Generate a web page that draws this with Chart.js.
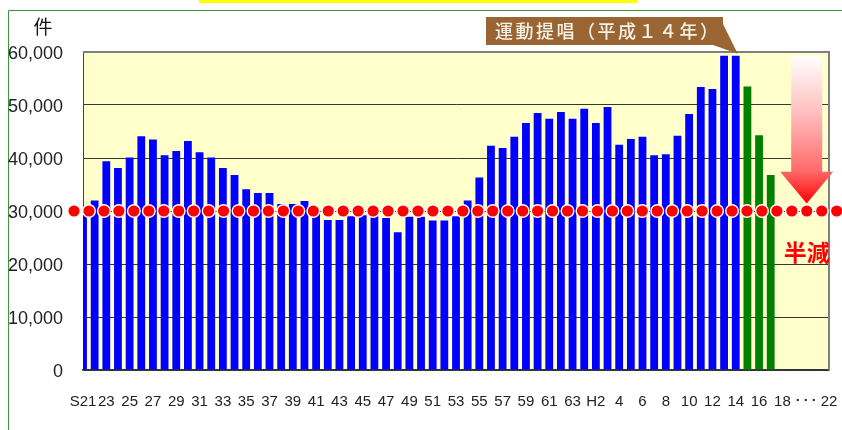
<!DOCTYPE html>
<html>
<head>
<meta charset="utf-8">
<script src="https://cdn.jsdelivr.net/npm/chart.js@4.4.1/dist/chart.umd.min.js"></script>
<style>
  html, body { margin: 0; padding: 0; background: #fff; }
  #wrap { width: 842px; height: 430px; }
</style>
</head>
<body>
<div id="wrap"><canvas id="chart" width="842" height="430"></canvas></div>
<script>
// 年（昭和21年〜平成22年）
const categories = [
  'S21','S22','S23','S24','S25','S26','S27','S28','S29','S30',
  'S31','S32','S33','S34','S35','S36','S37','S38','S39','S40',
  'S41','S42','S43','S44','S45','S46','S47','S48','S49','S50',
  'S51','S52','S53','S54','S55','S56','S57','S58','S59','S60',
  'S61','S62','S63','H1','H2','H3','H4','H5','H6','H7',
  'H8','H9','H10','H11','H12','H13','H14','H15','H16','H17',
  'H18','H19','H20','H21','H22'
];

// 件数 S21〜H14（青）
const countsBefore = [
  29800, 32000, 39400, 38100, 40100, 44100, 43500, 40500, 41300, 43200,
  41100, 40100, 38100, 36800, 34100, 33400, 33400, 31300, 31300, 31900,
  29700, 28300, 28300, 29000, 29200, 29000, 28700, 26000, 28900, 28900,
  28200, 28200, 29000, 32000, 36300, 42300, 41900, 44000, 46600, 48500,
  47400, 48700, 47400, 49300, 46600, 49600, 42500, 43600, 44000, 40500,
  40700, 44200, 48300, 53400, 53000, 59300, 59300
];

// 件数 H15〜H17（緑）
const countsAfter = [53500, 44300, 36800];

// 目標ライン（半減 30,000件）の点
const targetLevel = [
  30000, 30000, 30000, 30000, 30000, 30000, 30000, 30000, 30000, 30000,
  30000, 30000, 30000, 30000, 30000, 30000, 30000, 30000, 30000, 30000,
  30000, 30000, 30000, 30000, 30000, 30000, 30000, 30000, 30000, 30000,
  30000, 30000, 30000, 30000, 30000, 30000, 30000, 30000, 30000, 30000,
  30000, 30000, 30000, 30000, 30000, 30000, 30000, 30000, 30000, 30000,
  30000, 30000
];

const xTickLabels = [
  'S21','23','25','27','29','31','33','35','37','39','41',
  '43','45','47','49','51','53','55','57','59','61','63',
  'H2','4','6','8','10','12','14','16','18','･･･','22'
];
const yTickLabels = ['0', '10,000', '20,000', '30,000', '40,000', '50,000', '60,000'];

const latin = "'Liberation Sans', Arial, sans-serif";
const jp = "'Noto Sans CJK JP', 'Noto Sans', sans-serif";

const greenData = new Array(countsBefore.length).fill(null).concat(countsAfter);

let savedArea = null;

const decorations = {
  id: 'decorations',
  beforeDraw(chart) {
    const { ctx, chartArea: a } = chart;
    ctx.save();
    ctx.fillStyle = '#ffffff';
    ctx.fillRect(0, 0, chart.width, chart.height);
    // 外枠
    ctx.strokeStyle = '#3a983a';
    ctx.lineWidth = 1;
    ctx.beginPath();
    ctx.moveTo(8.5, chart.height);
    ctx.lineTo(8.5, 10.5);
    ctx.lineTo(chart.width, 10.5);
    ctx.stroke();
    // 上の黄色い帯
    ctx.fillStyle = '#ffff00';
    ctx.fillRect(199, 0, 438, 3);
    // プロットエリア
    ctx.fillStyle = '#ffffcc';
    ctx.fillRect(a.left, a.top, a.width, a.height);
    ctx.restore();
  },
  beforeDatasetsDraw(chart) {
    const { ctx, chartArea: a } = chart;
    ctx.save();
    ctx.strokeStyle = '#808080';
    ctx.lineWidth = 2;
    ctx.beginPath();
    ctx.moveTo(a.left, a.top);
    ctx.lineTo(a.right, a.top);
    ctx.lineTo(a.right, a.bottom);
    ctx.stroke();
    ctx.restore();
  },
  // 点線はプロットエリアの外まではみ出すので、その間だけ範囲を広げる
  beforeDatasetDraw(chart, args) {
    if (args.index !== 0) return;
    savedArea = chart.chartArea;
    chart.chartArea = Object.assign({}, savedArea, { left: 0, right: chart.width, width: chart.width });
  },
  afterDatasetDraw(chart, args) {
    if (args.index !== 0 || !savedArea) return;
    chart.chartArea = savedArea;
    savedArea = null;
  },
  afterDatasetsDraw(chart) {
    const { ctx } = chart;
    const x = chart.scales.x;
    const y = chart.scales.y;
    ctx.save();

    // 矢印（H20の位置）
    const cx = x.getPixelForValue(62) + 1;
    const top = y.getPixelForValue(59300);
    const headTop = y.getPixelForValue(37400);
    const tip = y.getPixelForValue(31400);
    const grad = ctx.createLinearGradient(0, top, 0, tip);
    grad.addColorStop(0, '#ffffff');
    grad.addColorStop(0.4, '#ffbcbc');
    grad.addColorStop(0.78, '#ff6a6a');
    grad.addColorStop(1, '#ff0000');
    ctx.fillStyle = grad;
    ctx.beginPath();
    ctx.moveTo(cx - 15.5, top);
    ctx.lineTo(cx + 15.5, top);
    ctx.lineTo(cx + 15.5, headTop);
    ctx.lineTo(cx + 26.5, headTop);
    ctx.lineTo(cx, tip);
    ctx.lineTo(cx - 26.5, headTop);
    ctx.lineTo(cx - 15.5, headTop);
    ctx.closePath();
    ctx.fill();

    // 半減
    ctx.fillStyle = '#ff0000';
    ctx.font = 'bold 23px ' + jp;
    ctx.textAlign = 'center';
    ctx.textBaseline = 'middle';
    ctx.fillText('半減', cx, y.getPixelForValue(22200));

    // 吹き出し
    const tx = x.getPixelForValue(56) + 2;
    const ty = y.getPixelForValue(59300) - 2;
    ctx.fillStyle = '#996633';
    ctx.fillRect(486, 17, 237, 28);
    ctx.beginPath();
    ctx.moveTo(713, 45);
    ctx.lineTo(722.5, 23);
    ctx.lineTo(tx, ty);
    ctx.closePath();
    ctx.fill();
    ctx.fillStyle = '#f6f1e8';
    ctx.font = '500 18px ' + jp;
    ctx.textAlign = 'left';
    const label = '運動提唱（平成１４年）';
    [...label].forEach((ch, i) => ctx.fillText(ch, 495 + i * 20.5, 31.5));

    // 単位
    ctx.fillStyle = '#111111';
    ctx.font = '19px ' + jp;
    ctx.textAlign = 'center';
    ctx.fillText('件', 43, 27);
    ctx.restore();
  }
};

new Chart(document.getElementById('chart'), {
  type: 'bar',
  data: {
    labels: categories,
    datasets: [
      {
        type: 'line',
        label: '目標',
        data: targetLevel.map((v, i) => ({ x: i, y: v })),
        xAxisID: 'xDots',
        showLine: false,
        pointRadius: 6.3,
        pointBorderWidth: 1.4,
        pointBackgroundColor: '#ff0000',
        pointBorderColor: '#ffffff',
        clip: false,
        order: 0
      },
      {
        label: 'S21-H14',
        data: countsBefore,
        backgroundColor: '#0000ff',
        grouped: false,
        categoryPercentage: 1,
        barPercentage: 0.67,
        clip: 0,
        order: 1
      },
      {
        label: 'H15-',
        data: greenData,
        backgroundColor: '#008000',
        grouped: false,
        categoryPercentage: 1,
        barPercentage: 0.67,
        clip: 0,
        order: 1
      }
    ]
  },
  options: {
    responsive: false,
    animation: false,
    layout: { padding: { top: 52, right: 13, left: 0, bottom: 0 } },
    plugins: { legend: { display: false }, tooltip: { enabled: false } },
    scales: {
      x: {
        offset: false,
        grid: { display: false, drawTicks: false },
        border: { display: true, color: '#333333', width: 1.5 },
        ticks: {
          autoSkip: false,
          maxRotation: 0,
          padding: 23,
          color: '#222222',
          font: { family: latin, size: 15 },
          callback: (v, i) => (i % 2 === 0 ? xTickLabels[i / 2] : '')
        },
        afterFit: s => { s.height = 60; s.paddingLeft = 0; s.paddingRight = 0; }
      },
      xDots: {
        type: 'linear',
        position: 'bottom',
        offset: false,
        display: true,
        grid: { display: false, drawTicks: false },
        border: { display: false },
        ticks: { display: false },
        min: 0.6,
        max: 50.485,
        afterFit: s => { s.height = 0; s.paddingLeft = 0; s.paddingRight = 0; }
      },
      y: {
        min: 0,
        max: 60000,
        ticks: {
          stepSize: 10000,
          padding: 20,
          labelOffset: 2.5,
          color: '#222222',
          font: { family: latin, size: 18 },
          callback: (v, i) => yTickLabels[i]
        },
        grid: { color: 'rgba(0,0,0,0.78)', lineWidth: 1, drawTicks: false },
        border: { display: true, color: '#444444', width: 1 },
        afterFit: s => { s.width = 83; s.paddingTop = 0; s.paddingBottom = 0; }
      }
    }
  },
  plugins: [decorations]
});
</script>
</body>
</html>
